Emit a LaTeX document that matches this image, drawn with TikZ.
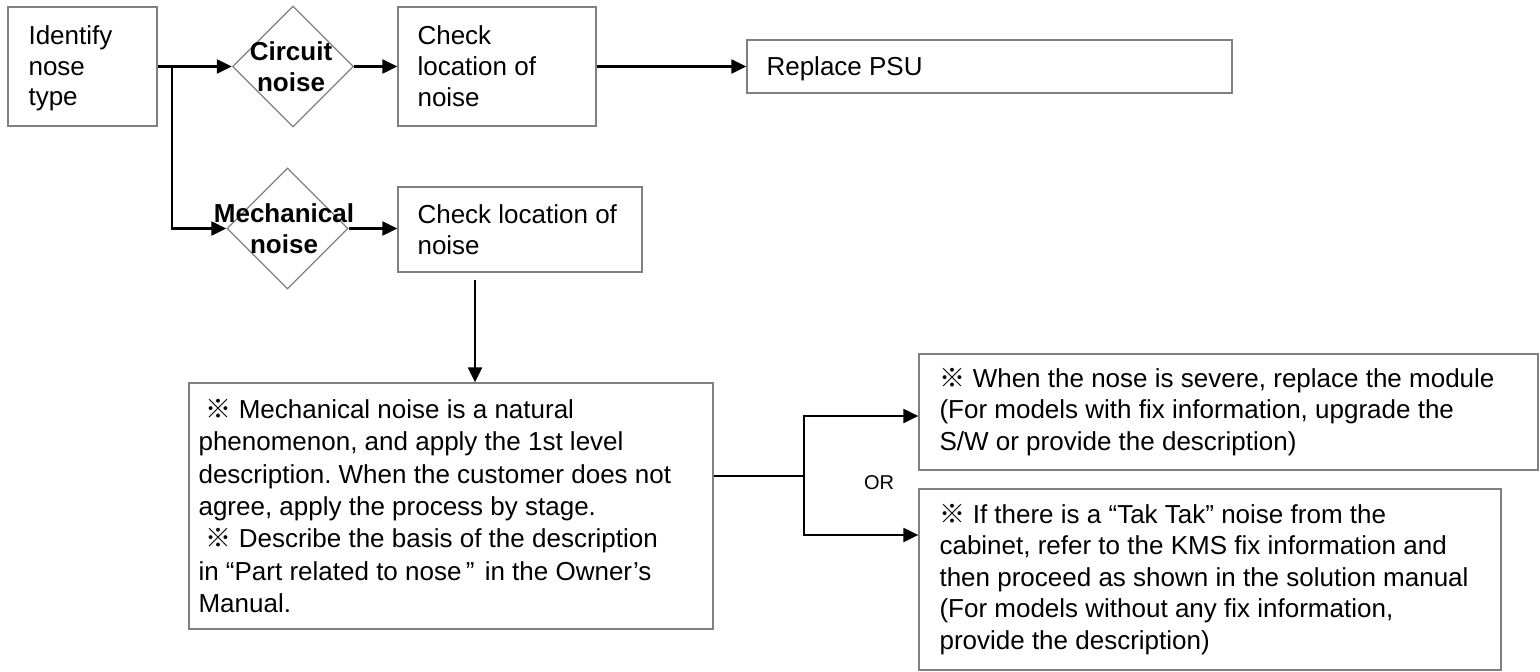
\documentclass[tikz,border=0pt]{standalone}
\usepackage{fontspec}
\setmainfont{Liberation Sans}
\newfontfamily\cjk{Noto Sans CJK SC}
\usetikzlibrary{arrows.meta,shapes.geometric}
\definecolor{boxgray}{RGB}{128,128,128}
\frenchspacing
\tikzset{
  box/.style={draw=boxgray, line width=1.3pt, rectangle, inner sep=0pt},
  dia/.style={draw=boxgray, line width=1.3pt, diamond, aspect=1, minimum width=121pt, minimum height=121pt, inner sep=0pt},
  txt/.style={font=\fontsize{26}{31.5}\selectfont, align=left, inner sep=0pt, anchor=west},
  dtxt/.style={font=\fontsize{26}{31}\selectfont\bfseries, align=center, inner sep=0pt},
  arr/.style={line width=2.2pt, -{Triangle[length=15pt,width=14pt]}},
  plain/.style={line width=1.3pt}
}
\begin{document}
\begin{tikzpicture}[x=1pt,y=-1pt]
\useasboundingbox (0,0) rectangle (1540,672);
% boxes
\node[box, minimum width=149pt, minimum height=119pt] (a) at (82.5,66.5) {};
\node[box, minimum width=198pt, minimum height=119pt] (b) at (497,66.5) {};
\node[box, minimum width=485pt, minimum height=53pt] (psu) at (989.5,66.5) {};
\node[box, minimum width=244pt, minimum height=85pt] (c) at (520,229.5) {};
\node[box, minimum width=524pt, minimum height=246pt] (e) at (451,506) {};
\node[box, minimum width=619pt, minimum height=116pt] (r1) at (1228.5,412) {};
\node[box, minimum width=582pt, minimum height=181pt] (r2) at (1210,579.5) {};
% diamonds
\node[dia] (d1) at (293,66.5) {};
\node[dia] (d2) at (287.5,228.5) {};
\node[dtxt] (d1t) at (291,66.5) {Circuit\\noise};
\node[dtxt] (d2t) at (284,229) {Mechanical\\noise};
% texts
\node[txt, font=\fontsize{26}{30.5}\selectfont] (at) at ([xshift=21pt,yshift=-2pt]a.west) {Identify\\nose\\type};
\node[txt, font=\fontsize{26}{31}\selectfont] (bt) at ([xshift=20pt]b.west) {Check\\location of\\noise};
\node[txt] (psut) at ([xshift=20pt,yshift=-2pt]psu.west) {Replace PSU};
\node[txt, font=\fontsize{26}{31}\selectfont] (ct) at ([xshift=20pt]c.west) {Check location of\\noise};
\node[txt, font=\fontsize{26}{32.3}\selectfont] (et) at ([xshift=10pt]e.west) {\hspace*{7pt}{\cjk ※} Mechanical noise is a natural\\phenomenon, and apply the 1st level\\description. When the customer does not\\agree, apply the process by stage.\\\hspace*{7pt}{\cjk ※} Describe the basis of the description\\in “Part related to nose\,”\hspace{3pt} in the Owner’s\\Manual.};
\node[txt] (r1t) at ([xshift=21pt]r1.west) {{\cjk\bfseries ※} When the nose is severe, replace the module\\(For models with fix information, upgrade the\\S/W or provide the description)};
\node[txt] (r2t) at ([xshift=21pt]r2.west) {{\cjk ※} If there is a “Tak Tak” noise from the\\cabinet, refer to the KMS fix information and\\then proceed as shown in the solution manual\\(For models without any fix information,\\provide the description)};
\node[font=\fontsize{20}{24}\selectfont, inner sep=0pt] (or) at (879,483) {OR};
% connectors
\coordinate (br) at (172,66.5);
\draw[arr] (a.east) -- (d1.west);
\draw[arr] (br) |- (d2.west);
\draw[arr] (d1.east) -- (b.west);
\draw[arr] (b.east) -- (psu.west);
\draw[arr] (d2.east) -- (d2.east -| c.west);
\draw[arr, shorten <=7pt] ([xshift=-45pt]c.south) -- ([xshift=24pt]e.north);
\coordinate (j) at (804,476);
\draw[plain] ([yshift=30pt]e.east) -- (j);
\draw[arr] (j) |- ([yshift=-4pt]r1.west);
\draw[arr] (j) |- ([yshift=44.5pt]r2.west);
\end{tikzpicture}
\end{document}
